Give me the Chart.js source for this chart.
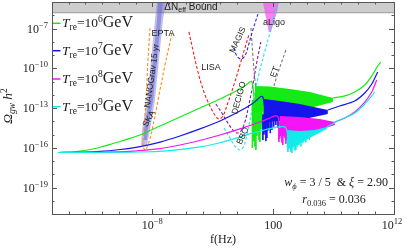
<!DOCTYPE html>
<html lang="en">
<head>
<meta charset="UTF-8">
<title>Omega_gw h^2 vs f</title>
<script src="https://cdn.jsdelivr.net/npm/chart.js@4"></script>
<style>
  html, body { margin: 0; padding: 0; background: #fff; }
  canvas { display: block; }
</style>
</head>
<body>
<canvas id="chart" width="407" height="250"></canvas>
<script>
// ---------------------------------------------------------------------------
// Data, stored as [log10 f(Hz), log10 Omega_gw h^2]
// ---------------------------------------------------------------------------
const xRange = [-16.29, 12];
const yRange = [-21, -5];
const xMajorTicks = [-8, 2, 12];
const xMinorTicks = [-14.91, -13.53, -12.15, -10.77, -9.38, -6.6, -5.2, -3.8, -2.4, -1.0, 3.4, 4.8, 6.2, 7.6, 9.0, 10.4];
const yMajorTicks = [-7, -10, -13, -16, -19];
const yMinorTicks = [-6, -8, -9, -11, -12, -14, -15, -17, -18, -20];

const legendLabels = ['6', '7', '8', '9'];
const deltaNeffBound = -5.81;

// T_re = 10^6 GeV (green)
const tre6Curve = [[-15.79,-16.36],[-14.80,-16.34],[-13.98,-16.26],[-13.15,-16.13],[-12.32,-15.96],[-11.50,-15.75],[-10.67,-15.53],[-9.84,-15.29],[-9.02,-15.04],[-7.36,-14.36],[-5.71,-13.68],[-4.06,-13.00],[-2.40,-12.32],[-0.75,-11.57],[-0.25,-11.26],[0.07,-11.04],[0.24,-11.00],[0.40,-12.02],[0.49,-13.15]];
const tre6Band = [[0.49,-11.34],[1.73,-11.38],[3.38,-11.57],[5.03,-11.79],[6.94,-12.25],[6.94,-12.55],[5.03,-13.00],[3.38,-13.23],[1.73,-13.23],[0.49,-13.30]];
const tre6Tail = [[6.94,-12.25],[7.93,-12.09],[8.75,-11.79],[9.58,-11.26],[10.16,-10.58],[10.65,-9.83],[10.90,-9.53]];
const tre6SpikeTop = -12.4;
const tre6Spikes = [[0.28,-16.02],[0.36,-15.5],[0.40,-15.26],[0.48,-15.9],[0.57,-16.17],[0.66,-15.1],[0.74,-14.81],[0.82,-15.4],[0.90,-15.57],[1.0,-14.6],[1.07,-14.28],[1.2,-14.9],[1.31,-14.66],[1.45,-14.2],[1.56,-13.91],[1.8,-13.8],[2.1,-13.7],[2.5,-13.6]];

// T_re = 10^7 GeV (blue)
const tre7Curve = [[-15.79,-16.36],[-13.98,-16.34],[-12.32,-16.28],[-10.67,-16.13],[-9.02,-15.91],[-7.36,-15.57],[-5.71,-15.11],[-4.06,-14.58],[-2.40,-13.98],[-0.75,-13.23],[0.24,-12.70],[0.74,-12.32],[0.99,-12.13],[1.15,-12.17],[1.32,-13.15],[1.40,-13.91]];
const tre7Band = [[1.23,-12.32],[2.55,-12.47],[4.21,-12.70],[6.52,-13.15],[6.52,-13.45],[4.21,-13.91],[2.55,-13.98],[1.23,-14.06]];
const tre7Tail = [[6.52,-13.15],[7.51,-12.85],[8.75,-12.47],[9.58,-11.87],[10.16,-11.19],[10.65,-10.28]];
const tre7SpikeTop = -13.5;
const tre7Spikes = [[1.15,-15.42],[1.24,-15.0],[1.32,-14.81],[1.40,-15.5],[1.48,-15.26],[1.56,-14.7],[1.64,-14.51],[1.76,-14.9],[1.89,-14.66],[2.05,-14.4],[2.22,-14.28],[2.4,-14.5],[2.7,-14.3],[3.0,-14.2]];

// T_re = 10^8 GeV (magenta)
const tre8Curve = [[-15.79,-16.36],[-12.32,-16.34],[-9.84,-16.27],[-7.36,-16.06],[-5.71,-15.79],[-4.06,-15.45],[-2.40,-15.04],[-0.75,-14.58],[0.90,-14.06],[1.73,-13.75],[2.14,-13.60],[2.39,-13.64],[2.55,-14.28],[2.72,-15.04]];
const tre8Band = [[2.55,-13.60],[4.21,-13.68],[5.86,-13.83],[7.10,-14.06],[7.10,-14.28],[5.86,-14.66],[4.21,-14.96],[2.55,-15.11]];
const tre8Tail = [[7.10,-14.06],[7.93,-13.75],[8.75,-13.30],[9.58,-12.55],[10.16,-11.79],[10.57,-10.89]];
const tre8SpikeTop = -14.5;
const tre8Spikes = [[2.47,-15.57],[2.55,-15.3],[2.64,-15.04],[2.72,-15.6],[2.80,-15.79],[2.88,-15.1],[2.97,-15.26],[3.05,-15.7],[3.13,-15.42],[3.25,-15.2],[3.38,-14.89],[3.55,-15.3],[3.71,-15.04],[3.9,-15.2],[4.2,-15.1]];

// T_re = 10^9 GeV (cyan)
const tre9Curve = [[-15.79,-16.36],[-9.02,-16.32],[-6.54,-16.21],[-4.06,-15.94],[-2.40,-15.62],[-0.75,-15.18],[0.49,-14.84],[1.73,-14.55],[2.80,-14.41],[3.05,-14.49],[3.22,-15.04],[3.38,-15.79]];
const tre9Band = [[3.13,-14.66],[4.21,-14.74],[5.45,-14.66],[6.44,-14.43],[6.44,-14.58],[5.03,-15.26],[3.80,-15.87],[3.13,-16.02]];
const tre9Tail = [[6.44,-14.43],[7.51,-13.91],[8.75,-13.38],[9.58,-12.70],[10.16,-12.09],[10.40,-11.79]];
const tre9SpikeTop = -14.8;
const tre9Spikes = [[3.22,-16.32],[3.30,-16.1],[3.38,-16.02],[3.46,-16.3],[3.55,-16.40],[3.63,-16.0],[3.71,-15.87],[3.80,-16.2],[3.88,-16.17],[4.0,-15.9],[4.12,-15.79],[4.3,-15.9],[4.45,-15.64],[4.7,-15.6],[5.0,-15.4]];

// detector sensitivity curves
const eptaCurve = [[-8.19,-6.96],[-8.36,-9.38],[-8.52,-12.40],[-8.69,-14.66],[-8.77,-15.79],[-8.60,-16.17],[-8.36,-15.79],[-8.02,-14.66],[-7.53,-12.40],[-6.95,-9.75],[-6.37,-7.34]];
const nanogravOuter = [[-7.61,-5],[-6.87,-5],[-7.12,-6.36],[-7.78,-12.40],[-8.19,-14.66],[-8.44,-15.79],[-8.93,-15.79],[-8.85,-14.66],[-8.44,-12.40],[-7.78,-6.36]];
const nanogravInner = [[-7.52,-5],[-7.12,-5],[-7.28,-6.36],[-7.94,-12.40],[-8.36,-14.66],[-8.44,-15.42],[-8.69,-15.42],[-8.69,-14.66],[-8.27,-12.40],[-7.61,-6.36]];
const lisaCurve = [[-4.97,-7.26],[-4.64,-8.62],[-4.22,-10.28],[-3.73,-11.79],[-3.23,-12.85],[-2.82,-13.53],[-2.49,-13.83],[-2.16,-13.60],[-1.75,-12.62],[-1.25,-11.26],[-0.75,-9.75],[-0.34,-8.47],[-0.01,-7.49]];
const magisCurve = [[-1.25,-8.47],[-1.00,-9.08],[-0.67,-9.30],[-0.34,-9.08],[-0.01,-8.17],[0.32,-7.11],[0.74,-5.91]];
const decigoCurve = [[-2.74,-12.70],[-2.24,-13.38],[-1.75,-14.13],[-1.33,-14.66],[-1.00,-14.89],[-0.67,-14.74],[-0.34,-14.06],[-0.01,-12.77],[0.32,-11.26],[0.65,-9.53],[0.98,-8.02]];
const bboCurve = [[-2.07,-14.51],[-1.58,-15.26],[-1.17,-15.87],[-0.75,-16.17],[-0.42,-15.87],[-0.09,-14.66],[0.24,-13.15],[0.57,-11.49],[0.90,-10.13],[1.23,-9.00],[1.73,-7.34],[2.14,-5.91],[2.39,-5.08]];
const etCurve = [[0.16,-6.96],[0.32,-9.00],[0.49,-10.89],[0.74,-12.40],[1.07,-13.53],[1.48,-13.00],[1.89,-11.87],[2.39,-10.36],[3.05,-8.62]];
const aligoShape = [[1.15,-5],[2.47,-5],[2.31,-5.75],[2.06,-6.51],[1.81,-7.26],[1.64,-7.26],[1.48,-6.51],[1.31,-5.75]];

// ---------------------------------------------------------------------------
// Styles
// ---------------------------------------------------------------------------
const GREEN = 'rgb(20,235,20)';
const BLUE = 'rgb(20,20,235)';
const MAGENTA = 'rgb(245,20,245)';
const CYAN = 'rgb(20,235,235)';
const SERIF = '"Liberation Serif", "Times New Roman", serif';
const SANS = '"Liberation Sans", Arial, sans-serif';

const pts = arr => arr.map(([lf, lo]) => ({ x: 10 ** lf, y: 10 ** lo }));
const closed = arr => pts(arr.concat([arr[0]]));
const spikes = (arr, top) => arr.flatMap(([lf, lo]) => [
  { x: 10 ** lf, y: 10 ** top }, { x: 10 ** lf, y: 10 ** lo }, { x: 10 ** lf, y: null }]);

function curve(data, color, order, extra) {
  return Object.assign({ data, borderColor: color, borderWidth: 1.2,
    tension: 0.3, fill: false, order }, extra || {});
}
function shape(arr, color, order) {
  return { data: closed(arr), borderColor: 'rgba(0,0,0,0)', borderWidth: 0,
    backgroundColor: color, fill: 'shape', tension: 0, order };
}
function dashed(arr, color, order) {
  return curve(pts(arr), color, order, { borderDash: [3, 2], borderWidth: 1.1, tension: 0.35 });
}
function spikeSet(arr, top, color, order) {
  return curve(spikes(arr, top), color, order, { tension: 0, borderWidth: 0.9 });
}

const datasets = [
  // gray Delta N_eff region
  { data: pts([[xRange[0], deltaNeffBound], [xRange[1], deltaNeffBound]]),
    borderColor: '#9a9a9a', borderWidth: 1, backgroundColor: '#cdcdcd', fill: 'end', order: 100 },
  shape(nanogravOuter, 'rgba(110,110,215,0.45)', 90),
  shape(nanogravInner, 'rgba(90,90,200,0.45)', 89),
  shape(aligoShape, 'rgba(240,90,240,0.75)', 88),
  dashed(eptaCurve, 'rgb(255,140,20)', 60),
  dashed(lisaCurve, 'rgb(240,30,30)', 60),
  dashed(magisCurve, 'rgb(40,40,240)', 60),
  dashed(decigoCurve, 'rgb(130,20,160)', 60),
  dashed(bboCurve, 'rgb(30,230,240)', 60),
  dashed(etCurve, 'rgb(120,120,120)', 60),
  // spectra: green below, cyan on top
  shape(tre6Band, GREEN, 49),
  spikeSet(tre6Spikes, tre6SpikeTop, GREEN, 48),
  curve(pts(tre6Curve), GREEN, 47),
  curve(pts(tre6Tail), GREEN, 47),
  shape(tre7Band, BLUE, 39),
  spikeSet(tre7Spikes, tre7SpikeTop, BLUE, 38),
  curve(pts(tre7Curve), BLUE, 37),
  curve(pts(tre7Tail), BLUE, 37),
  shape(tre8Band, MAGENTA, 29),
  spikeSet(tre8Spikes, tre8SpikeTop, MAGENTA, 28),
  curve(pts(tre8Curve), MAGENTA, 27),
  curve(pts(tre8Tail), MAGENTA, 27),
  shape(tre9Band, CYAN, 19),
  spikeSet(tre9Spikes, tre9SpikeTop, CYAN, 18),
  curve(pts(tre9Curve), CYAN, 17),
  curve(pts(tre9Tail), CYAN, 17),
];

// ---------------------------------------------------------------------------
// Text helpers
// ---------------------------------------------------------------------------
function rich(ctx, parts, x, y, align) {
  let w = 0;
  parts.forEach(p => { ctx.font = p[1]; w += ctx.measureText(p[0]).width; });
  let cx = align === 'right' ? x - w : align === 'center' ? x - w / 2 : x;
  parts.forEach(p => {
    ctx.font = p[1];
    ctx.fillText(p[0], cx, y + (p[2] || 0));
    cx += ctx.measureText(p[0]).width;
  });
}
function rotated(ctx, text, x, y, deg, font) {
  ctx.save();
  ctx.translate(x, y);
  ctx.rotate(deg * Math.PI / 180);
  ctx.font = font;
  ctx.textAlign = 'center';
  ctx.textBaseline = 'middle';
  ctx.fillText(text, 0, 0);
  ctx.restore();
}
const pow10 = e => [['10', `12px ${SERIF}`, 0], [String(e).replace('-', '\u2212'), `8.5px ${SERIF}`, -5]];

const framePlugin = {
  id: 'frame',
  afterDatasetsDraw(chart) {
    const { ctx, chartArea: a, scales: { x, y } } = chart;
    ctx.save();
    // frame
    ctx.strokeStyle = '#555';
    ctx.lineWidth = 1;
    ctx.strokeRect(a.left + 0.5, a.top + 0.5, a.right - a.left, a.bottom - a.top);
    // ticks, drawn inward on all four sides
    ctx.beginPath();
    const tx = (v, len) => {
      const px = Math.round(x.getPixelForValue(10 ** v)) + 0.5;
      ctx.moveTo(px, a.bottom); ctx.lineTo(px, a.bottom - len);
      ctx.moveTo(px, a.top); ctx.lineTo(px, a.top + len);
    };
    const ty = (v, len) => {
      const py = Math.round(y.getPixelForValue(10 ** v)) + 0.5;
      ctx.moveTo(a.left, py); ctx.lineTo(a.left + len, py);
      ctx.moveTo(a.right, py); ctx.lineTo(a.right - len, py);
    };
    xMajorTicks.forEach(v => tx(v, 5));
    xMinorTicks.forEach(v => tx(v, 2.5));
    yMajorTicks.forEach(v => ty(v, 5));
    yMinorTicks.forEach(v => ty(v, 2.5));
    ctx.stroke();

    // tick labels
    ctx.fillStyle = '#222';
    ctx.textBaseline = 'alphabetic';
    yMajorTicks.forEach(v => rich(ctx, pow10(v), a.left - 4, y.getPixelForValue(10 ** v) + 4, 'right'));
    rich(ctx, pow10(-8), x.getPixelForValue(1e-8), 228.5, 'center');
    rich(ctx, [['100', `12px ${SERIF}`, 0]], x.getPixelForValue(1e2), 228.5, 'center');
    rich(ctx, pow10(12), x.getPixelForValue(1e12) - 2, 228.5, 'center');

    // axis titles
    rich(ctx, [['f(Hz)', `12px ${SERIF}`, 0]], 223, 243, 'center');
    ctx.save();
    ctx.translate(12, 106);
    ctx.rotate(-Math.PI / 2);
    rich(ctx, [['\u03A9', `italic 13.5px ${SERIF}`, 0], ['gw', `italic 9.5px ${SERIF}`, 3],
      [' h', `italic 13.5px ${SERIF}`, 0], ['2', `9.5px ${SERIF}`, -5.5]], 0, 0, 'center');
    ctx.restore();

    // legend
    const legendColors = [GREEN, BLUE, MAGENTA, CYAN];
    const legendY = [23.3, 50.7, 79, 106.7];
    legendLabels.forEach((p, i) => {
      ctx.strokeStyle = legendColors[i];
      ctx.lineWidth = 1.5;
      ctx.beginPath(); ctx.moveTo(53, legendY[i]); ctx.lineTo(60.5, legendY[i]); ctx.stroke();
      ctx.fillStyle = '#222';
      rich(ctx, [['T', `italic 13.5px ${SERIF}`, 0], ['re', `9.5px ${SERIF}`, 3],
        ['=10', `13.5px ${SERIF}`, 0], [p, `9.5px ${SERIF}`, -5.5], ['GeV', `16px ${SERIF}`, 0]],
        62, legendY[i] + 3.8, 'left');
    });

    // detector labels
    ctx.fillStyle = '#222';
    ctx.textBaseline = 'middle';
    rich(ctx, [['\u0394N', `10px ${SANS}`, 0], ['eff', `7px ${SANS}`, 2.5], [' Bound', `10px ${SANS}`, 0]], 191, 7.5, 'center');
    ctx.font = `9px ${SANS}`;
    ctx.textAlign = 'center';
    ctx.fillText('EPTA', 163, 34);
    ctx.fillText('LISA', 211, 68);
    ctx.fillText('aLigo', 274, 23);
    ctx.restore();
    ctx.save();
    ctx.fillStyle = '#222';
    rotated(ctx, 'NANOGrav 15 yr', 152, 76, -82, `8.5px ${SANS}`);
    rotated(ctx, 'SKA', 149, 119, -62, `8.5px ${SANS}`);
    rotated(ctx, 'MAGIS', 238, 40, -65, `8.5px ${SANS}`);
    rotated(ctx, 'DECIGO', 239, 98, -75, `8.5px ${SANS}`);
    rotated(ctx, 'BBO', 243, 136, -65, `8.5px ${SANS}`);
    rotated(ctx, 'ET', 275, 72, -70, `8.5px ${SANS}`);

    // parameter annotation
    ctx.textBaseline = 'alphabetic';
    rich(ctx, [['w', `italic 12px ${SERIF}`, 0], ['\u03D5', `italic 8.5px ${SERIF}`, 3],
      [' = 3 / 5  & ', `12px ${SERIF}`, 0], ['\u03BE', `italic 12px ${SERIF}`, 0], [' = 2.90', `12px ${SERIF}`, 0]],
      388, 185.5, 'right');
    rich(ctx, [['r', `italic 12px ${SERIF}`, 0], ['0.036', `8.5px ${SERIF}`, 3], [' = 0.036', `12px ${SERIF}`, 0]],
      334, 202.5, 'center');
    ctx.restore();
  }
};

new Chart(document.getElementById('chart'), {
  type: 'line',
  data: { datasets },
  options: {
    responsive: false,
    animation: false,
    events: [],
    layout: { padding: { left: 52, top: 2, right: 13, bottom: 36 } },
    elements: { point: { radius: 0 } },
    plugins: { legend: { display: false }, tooltip: { enabled: false } },
    scales: {
      x: { type: 'logarithmic', display: false, min: 10 ** xRange[0], max: 10 ** xRange[1] },
      y: { type: 'logarithmic', display: false, min: 10 ** yRange[0], max: 10 ** yRange[1] }
    }
  },
  plugins: [framePlugin]
});
</script>
</body>
</html>
